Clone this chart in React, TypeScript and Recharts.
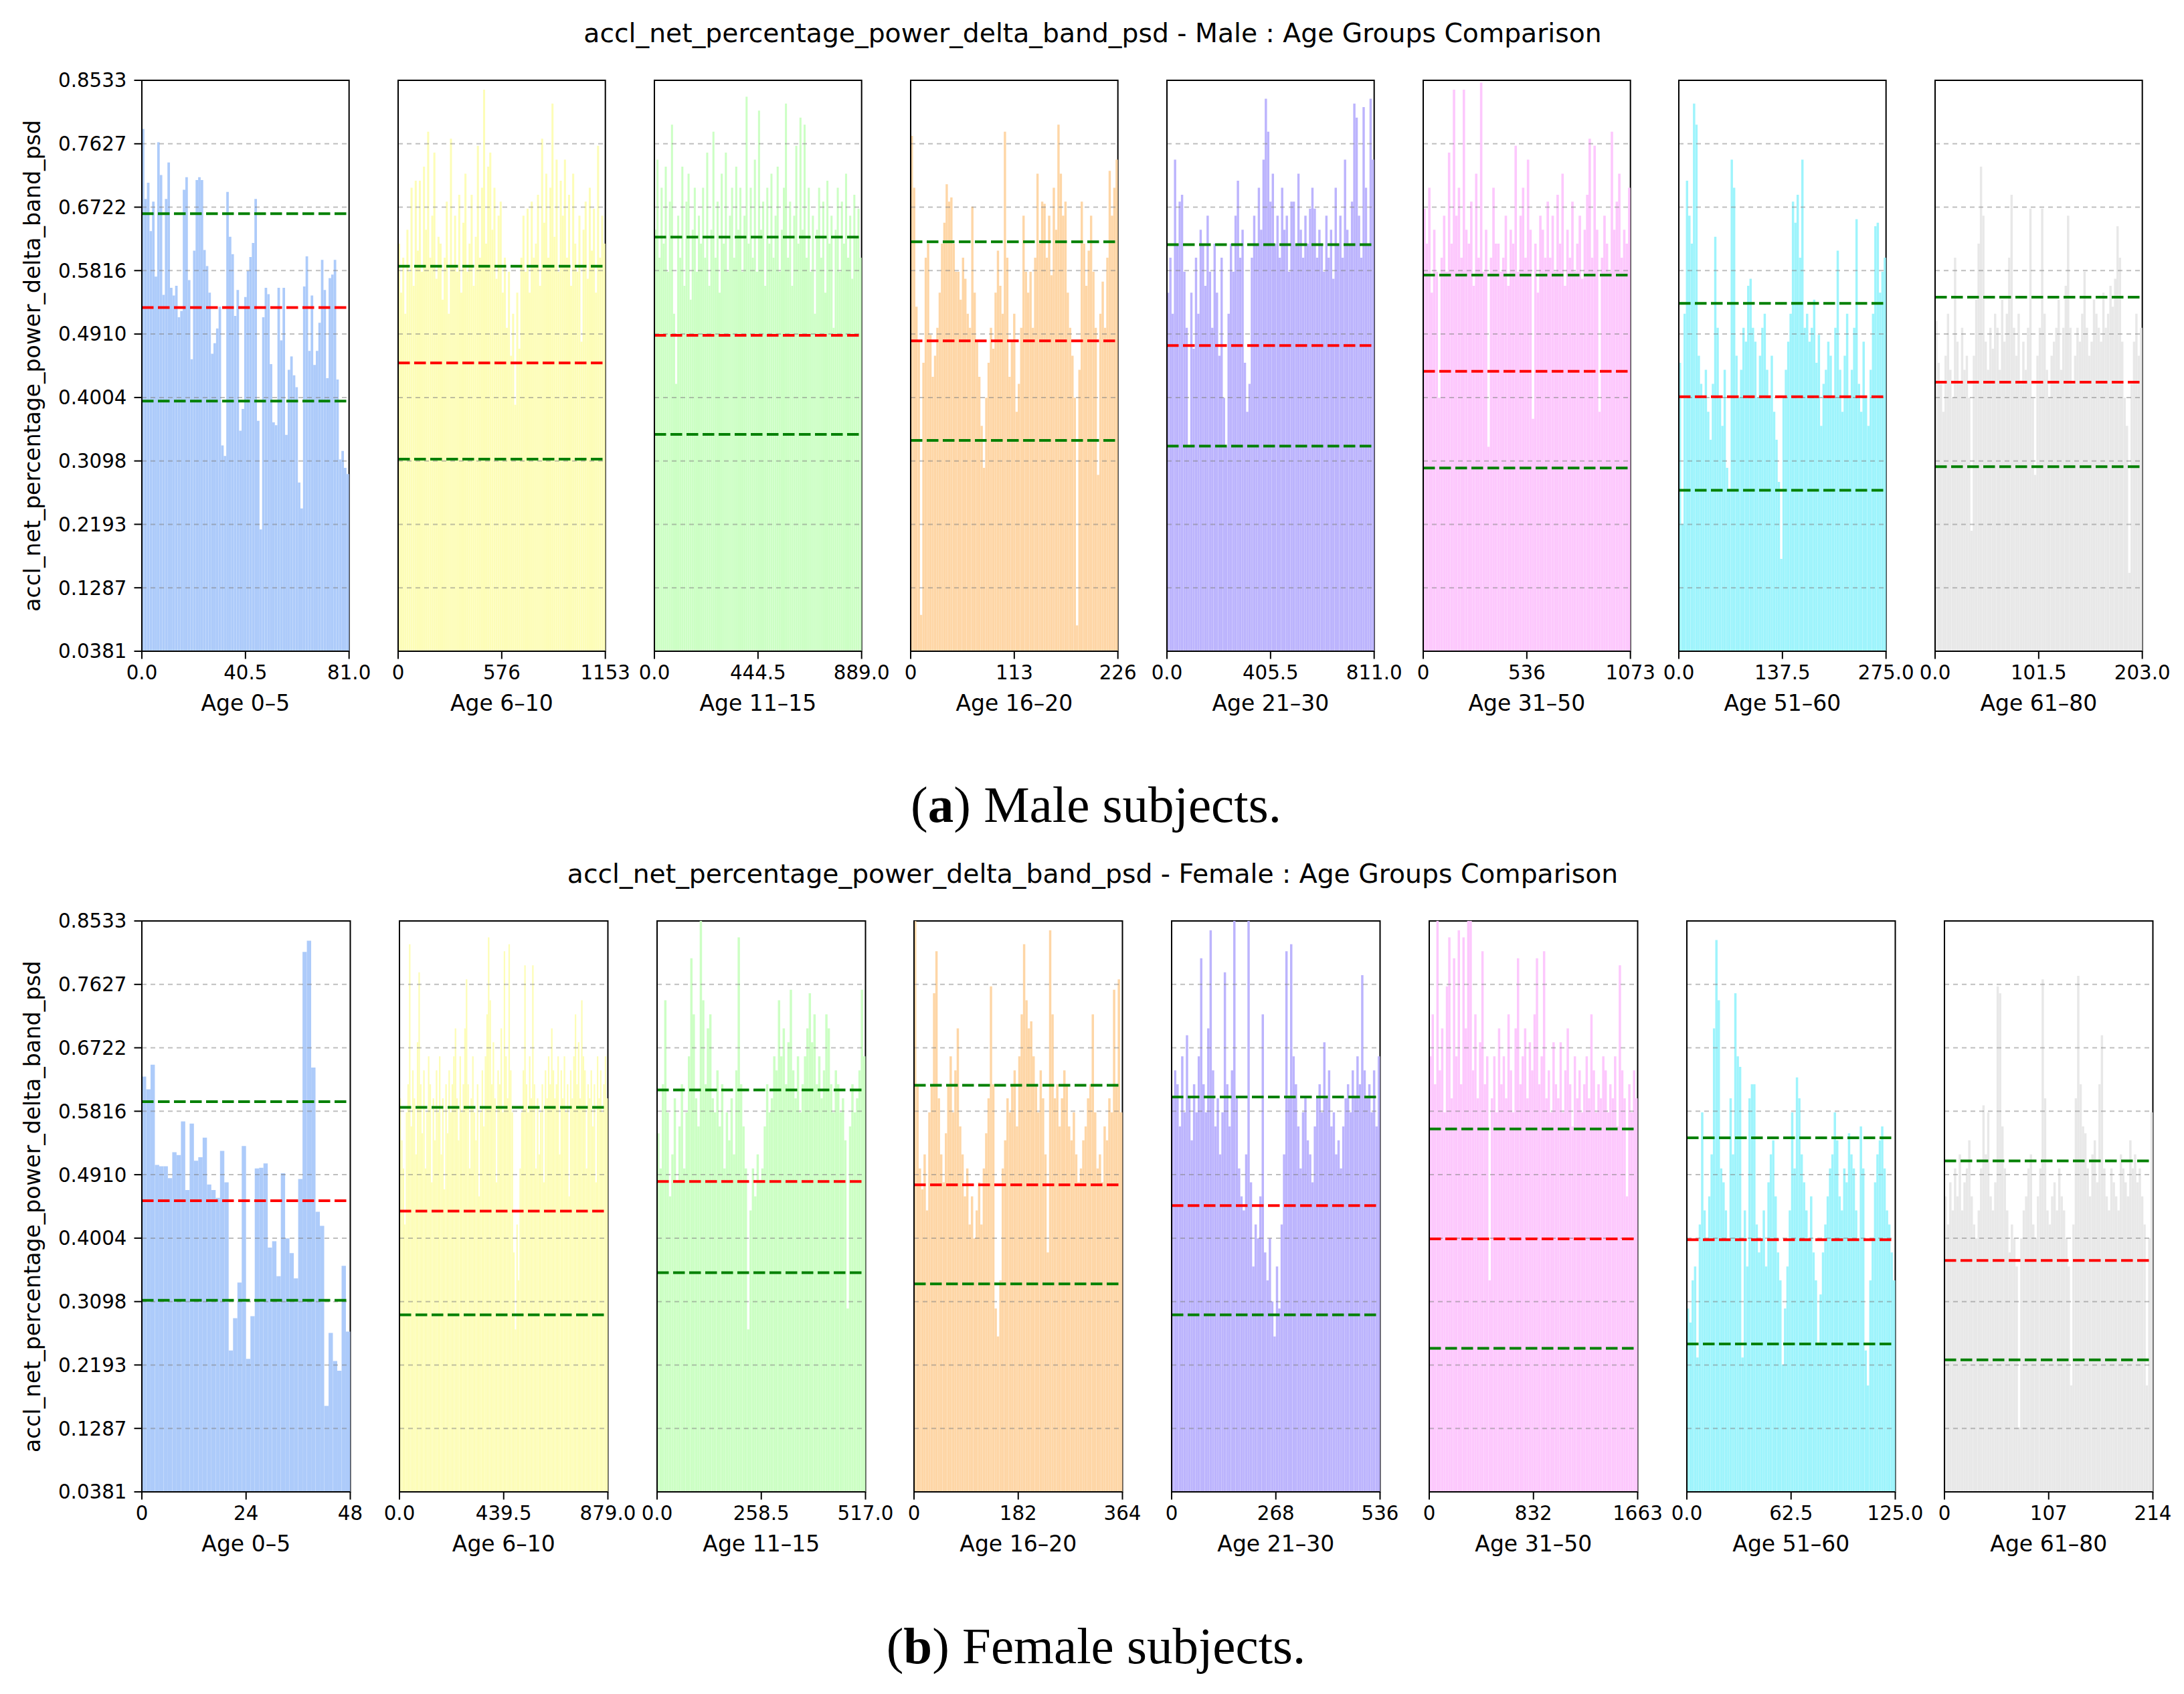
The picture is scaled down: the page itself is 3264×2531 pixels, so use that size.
import React from 'react';
import { ComposedChart, Bar, XAxis, YAxis, ReferenceLine, ReferenceArea } from 'recharts';

const FONT = "'DejaVu Sans', sans-serif";
const SERIF = "'Liberation Serif', 'DejaVu Serif', serif";

const Y_TICKS = [0.0381, 0.1287, 0.2193, 0.3098, 0.4004, 0.491, 0.5816, 0.6722, 0.7627, 0.8533];
const Y_MIN = Y_TICKS[0];
const Y_MAX = Y_TICKS[Y_TICKS.length - 1];

const AGE_GROUPS = ['Age 0–5', 'Age 6–10', 'Age 11–15', 'Age 16–20', 'Age 21–30', 'Age 31–50', 'Age 51–60', 'Age 61–80'];
const COLORS = ['#adcbfa', '#fdfdb7', '#ccffc4', '#fed6a6', '#bcb4fd', '#fdc8fd', '#9ef4fc', '#e8e8e8'];

const MALE_X_TICKS = [
  ['0.0', '40.5', '81.0'], ['0', '576', '1153'], ['0.0', '444.5', '889.0'], ['0', '113', '226'],
  ['0.0', '405.5', '811.0'], ['0', '536', '1073'], ['0.0', '137.5', '275.0'], ['0.0', '101.5', '203.0'],
];
const FEMALE_X_TICKS = [
  ['0', '24', '48'], ['0.0', '439.5', '879.0'], ['0.0', '258.5', '517.0'], ['0', '182', '364'],
  ['0', '268', '536'], ['0', '832', '1663'], ['0.0', '62.5', '125.0'], ['0', '107', '214'],
];

const MALE_UPPER = [0.6629, 0.5878, 0.6294, 0.6227, 0.6187, 0.5751, 0.5349, 0.5436];
const MALE_MEAN = [0.5288, 0.4497, 0.4893, 0.4812, 0.4745, 0.4377, 0.4015, 0.4222];
const MALE_LOWER = [0.3954, 0.3123, 0.3478, 0.3391, 0.3311, 0.2996, 0.268, 0.3016];
const FEMALE_UPPER = [0.5952, 0.5872, 0.612, 0.6187, 0.6019, 0.5563, 0.5436, 0.5107];
const FEMALE_MEAN = [0.4538, 0.439, 0.4812, 0.4765, 0.447, 0.3994, 0.3981, 0.3686];
const FEMALE_LOWER = [0.3116, 0.2908, 0.3512, 0.3351, 0.2908, 0.2432, 0.2493, 0.2265];

const male0to5 = [
  0.784, 0.684, 0.707, 0.638, 0.68, 0.573, 0.765, 0.718, 0.547, 0.684,
  0.736, 0.557, 0.546, 0.56, 0.515, 0.524, 0.697, 0.715, 0.568, 0.455,
  0.61, 0.711, 0.715, 0.711, 0.611, 0.588, 0.55, 0.463, 0.478, 0.499,
  0.53, 0.332, 0.317, 0.694, 0.63, 0.605, 0.517, 0.554, 0.353, 0.384,
  0.544, 0.581, 0.601, 0.621, 0.684, 0.367, 0.212, 0.515, 0.557, 0.548,
  0.448, 0.365, 0.361, 0.557, 0.482, 0.557, 0.347, 0.44, 0.459, 0.432,
  0.415, 0.279, 0.242, 0.559, 0.602, 0.467, 0.546, 0.447, 0.467, 0.507,
  0.597, 0.554, 0.428, 0.571, 0.576, 0.597, 0.426, 0.312, 0.324, 0.3,
  0.291,
];
const male6to10 = [
  0.62, 0.55, 0.6, 0.52, 0.64, 0.58, 0.7, 0.56, 0.71, 0.61,
  0.71, 0.58, 0.73, 0.64, 0.78, 0.6, 0.66, 0.75, 0.57, 0.63,
  0.62, 0.54, 0.6, 0.68, 0.52, 0.77, 0.59, 0.66, 0.58, 0.69,
  0.55, 0.65, 0.72, 0.58, 0.62, 0.69, 0.56, 0.63, 0.76, 0.6,
  0.7, 0.84, 0.62, 0.73, 0.75, 0.64, 0.7, 0.57, 0.66, 0.68,
  0.55, 0.6, 0.5, 0.58, 0.46, 0.52, 0.39, 0.55, 0.47, 0.6,
  0.66, 0.58, 0.67, 0.55, 0.68, 0.6, 0.62, 0.69, 0.56, 0.77,
  0.65, 0.72, 0.6, 0.7, 0.82, 0.63, 0.74, 0.58, 0.71, 0.66,
  0.74, 0.6, 0.69, 0.56, 0.72, 0.62, 0.58, 0.66, 0.48, 0.64,
  0.68, 0.57, 0.7, 0.61, 0.67, 0.55, 0.76, 0.6, 0.66, 0.62,
];
const male11to15 = [
  0.64, 0.74, 0.6, 0.7, 0.62, 0.73, 0.58, 0.68, 0.79, 0.52,
  0.42, 0.66, 0.6, 0.73, 0.56, 0.68, 0.72, 0.54, 0.64, 0.7,
  0.58, 0.66, 0.62, 0.7, 0.6, 0.75, 0.56, 0.64, 0.78, 0.6,
  0.68, 0.55, 0.72, 0.62, 0.75, 0.58, 0.66, 0.7, 0.6, 0.73,
  0.64, 0.7, 0.58, 0.66, 0.83, 0.62, 0.7, 0.6, 0.74, 0.58,
  0.81, 0.64, 0.68, 0.56, 0.7, 0.62, 0.72, 0.6, 0.66, 0.73,
  0.58, 0.64, 0.7, 0.82, 0.6, 0.68, 0.56, 0.66, 0.76, 0.62,
  0.8, 0.64, 0.79, 0.6, 0.7, 0.58, 0.66, 0.52, 0.64, 0.7,
  0.6, 0.68, 0.55, 0.71, 0.62, 0.66, 0.5, 0.64, 0.7, 0.58,
  0.68, 0.62, 0.72, 0.6, 0.66, 0.57, 0.69, 0.63, 0.67, 0.6,
];
const male16to20 = [
  0.774, 0.7, 0.53, 0.48, 0.09, 0.45, 0.6, 0.62, 0.49, 0.43,
  0.46, 0.5, 0.55, 0.62, 0.65, 0.705, 0.68, 0.686, 0.62, 0.58,
  0.58, 0.54, 0.6, 0.57, 0.52, 0.5, 0.673, 0.55, 0.48, 0.43,
  0.36, 0.3, 0.4, 0.45, 0.5, 0.47, 0.55, 0.61, 0.56, 0.52,
  0.78, 0.6, 0.43, 0.48, 0.52, 0.38, 0.42, 0.5, 0.66, 0.58,
  0.55, 0.58, 0.5, 0.6, 0.72, 0.62, 0.68, 0.677, 0.6, 0.66,
  0.575, 0.7, 0.64, 0.79, 0.72, 0.66, 0.68, 0.55, 0.5, 0.46,
  0.4, 0.075, 0.44, 0.68, 0.62, 0.56, 0.61, 0.66, 0.58, 0.5,
  0.29, 0.52, 0.566, 0.5, 0.6, 0.724, 0.66, 0.7, 0.74,
];
const male21to30 = [
  0.55, 0.6, 0.52, 0.74, 0.62, 0.68, 0.69, 0.58, 0.5, 0.33,
  0.55, 0.47, 0.6, 0.52, 0.64, 0.62, 0.56, 0.66, 0.58, 0.5,
  0.62, 0.55, 0.46, 0.6, 0.4, 0.33, 0.52, 0.62, 0.58, 0.66,
  0.71, 0.6, 0.64, 0.45, 0.38, 0.42, 0.6, 0.66, 0.62, 0.7,
  0.64, 0.74, 0.827, 0.78, 0.68, 0.72, 0.62, 0.66, 0.6, 0.7,
  0.64, 0.66, 0.58, 0.68, 0.68, 0.62, 0.72, 0.64, 0.6, 0.66,
  0.62, 0.67, 0.7, 0.67, 0.6, 0.64, 0.62, 0.58, 0.66, 0.6,
  0.64, 0.57, 0.7, 0.62, 0.66, 0.6, 0.74, 0.64, 0.62, 0.68,
  0.82, 0.8, 0.66, 0.6, 0.815, 0.7, 0.62, 0.827, 0.74,
];
const male31to50 = [
  0.67, 0.62, 0.7, 0.55, 0.64, 0.58, 0.4, 0.6, 0.66, 0.58,
  0.75, 0.62, 0.84, 0.66, 0.7, 0.6, 0.84, 0.64, 0.62, 0.68,
  0.56, 0.72, 0.6, 0.85, 0.58, 0.64, 0.33, 0.6, 0.7, 0.62,
  0.62, 0.58, 0.6, 0.66, 0.56, 0.64, 0.62, 0.76, 0.58, 0.66,
  0.7, 0.6, 0.74, 0.64, 0.37, 0.62, 0.55, 0.66, 0.64, 0.6,
  0.68, 0.6, 0.66, 0.58, 0.69, 0.62, 0.72, 0.56, 0.64, 0.6,
  0.68, 0.58, 0.62, 0.66, 0.57, 0.64, 0.69, 0.77, 0.6, 0.76,
  0.64, 0.38, 0.6, 0.66, 0.62, 0.58, 0.78, 0.64, 0.68, 0.72,
  0.6, 0.64, 0.62, 0.7,
];
const male51to60 = [
  0.45, 0.22, 0.52, 0.71, 0.66, 0.62, 0.82, 0.79, 0.46, 0.42,
  0.4, 0.44, 0.38, 0.34, 0.42, 0.63, 0.5, 0.4, 0.36, 0.44,
  0.3, 0.27, 0.74, 0.7, 0.46, 0.4, 0.44, 0.5, 0.48, 0.56,
  0.57, 0.5, 0.48, 0.4, 0.46, 0.5, 0.52, 0.44, 0.4, 0.46,
  0.38, 0.34, 0.28, 0.17, 0.4, 0.44, 0.48, 0.52, 0.68, 0.65,
  0.69, 0.6, 0.74, 0.5, 0.52, 0.48, 0.5, 0.54, 0.45, 0.49,
  0.36, 0.42, 0.44, 0.48, 0.46, 0.4, 0.5, 0.61, 0.44, 0.38,
  0.46, 0.52, 0.4, 0.44, 0.5, 0.655, 0.42, 0.38, 0.48, 0.4,
  0.36, 0.44, 0.52, 0.645, 0.65, 0.55, 0.58, 0.6,
];
const male61to80 = [
  0.51, 0.45, 0.42, 0.38, 0.46, 0.52, 0.44, 0.4, 0.6, 0.48,
  0.42, 0.5, 0.44, 0.46, 0.4, 0.21, 0.46, 0.54, 0.62, 0.73,
  0.66, 0.48, 0.44, 0.5, 0.47, 0.52, 0.5, 0.44, 0.54, 0.48,
  0.52, 0.6, 0.69, 0.5, 0.46, 0.52, 0.42, 0.48, 0.44, 0.5,
  0.67, 0.4, 0.29, 0.46, 0.5, 0.67, 0.52, 0.44, 0.4, 0.46,
  0.48, 0.5, 0.54, 0.44, 0.5, 0.56, 0.66, 0.5, 0.42, 0.46,
  0.5, 0.48, 0.52, 0.58, 0.5, 0.46, 0.48, 0.54, 0.52, 0.5,
  0.48, 0.55, 0.5, 0.52, 0.56, 0.53, 0.57, 0.645, 0.6, 0.48,
  0.4, 0.36, 0.15, 0.42, 0.48, 0.52, 0.46, 0.5,
];

const female0to5 = [
  0.631, 0.613, 0.648, 0.505, 0.503, 0.503, 0.486, 0.523, 0.519, 0.567,
  0.469, 0.564, 0.511, 0.516, 0.544, 0.477, 0.469, 0.458, 0.525, 0.48,
  0.24, 0.286, 0.337, 0.532, 0.228, 0.289, 0.5, 0.501, 0.507, 0.387,
  0.396, 0.346, 0.493, 0.4, 0.379, 0.343, 0.485, 0.809, 0.825, 0.644,
  0.438, 0.418, 0.161, 0.265, 0.225, 0.211, 0.361, 0.267,
];
const female6to10 = [
  0.6, 0.54, 0.5, 0.42, 0.58, 0.62, 0.82, 0.56, 0.64, 0.6, 0.52, 0.68,
  0.78, 0.62, 0.55, 0.64, 0.5, 0.58, 0.66, 0.62, 0.48, 0.6, 0.54, 0.64,
  0.58, 0.66, 0.52, 0.6, 0.47, 0.62, 0.55, 0.64, 0.58, 0.62, 0.66, 0.7,
  0.6, 0.54, 0.66, 0.58, 0.62, 0.7, 0.77, 0.62, 0.5, 0.6, 0.66, 0.58,
  0.54, 0.62, 0.46, 0.58, 0.64, 0.56, 0.66, 0.72, 0.83, 0.74, 0.62, 0.68,
  0.6, 0.48, 0.64, 0.62, 0.7, 0.58, 0.81, 0.66, 0.6, 0.82, 0.64, 0.58,
  0.38, 0.27, 0.42, 0.34, 0.5, 0.58, 0.64, 0.79, 0.62, 0.58, 0.66, 0.6,
  0.79, 0.62, 0.5, 0.6, 0.52, 0.58, 0.62, 0.48, 0.64, 0.6, 0.66, 0.62,
  0.7, 0.64, 0.6, 0.62, 0.66, 0.52, 0.64, 0.6, 0.66, 0.58, 0.62, 0.46,
  0.64, 0.6, 0.66, 0.72, 0.62, 0.68, 0.6, 0.74, 0.66, 0.64, 0.5, 0.62,
  0.6, 0.64, 0.56, 0.62, 0.48, 0.66, 0.6, 0.64, 0.58, 0.62, 0.66, 0.6,
];
const female11to15 = [
  0.55, 0.5, 0.62, 0.74, 0.58, 0.46, 0.52, 0.6, 0.48, 0.56,
  0.62, 0.5, 0.58, 0.66, 0.8, 0.72, 0.6, 0.56, 0.87, 0.74,
  0.62, 0.7, 0.72, 0.6, 0.58, 0.64, 0.56, 0.62, 0.5, 0.58,
  0.54, 0.6, 0.52, 0.64,
  0.83, 0.62, 0.56, 0.5, 0.27, 0.44, 0.5, 0.46, 0.52, 0.48,
  0.5, 0.56, 0.62, 0.58, 0.6, 0.66, 0.64, 0.74, 0.66, 0.7,
  0.62, 0.68, 0.755, 0.64, 0.6, 0.66, 0.58, 0.62, 0.66, 0.7,
  0.75, 0.68, 0.72, 0.62, 0.66, 0.6, 0.64, 0.72, 0.7, 0.62,
  0.58, 0.64, 0.62, 0.58, 0.6, 0.54, 0.3, 0.56, 0.62, 0.58,
  0.6, 0.64, 0.755, 0.66,
];
const female16to20 = [
  0.853, 0.62, 0.5, 0.47, 0.52, 0.44, 0.58, 0.62, 0.75, 0.81,
  0.6, 0.52, 0.48, 0.55, 0.62, 0.66, 0.58, 0.64, 0.7, 0.56,
  0.52, 0.46, 0.5, 0.42, 0.46, 0.4, 0.44, 0.48, 0.42, 0.5,
  0.55, 0.6, 0.76, 0.62, 0.3, 0.26, 0.34, 0.5, 0.54, 0.6,
  0.58, 0.62, 0.64, 0.56, 0.66, 0.72, 0.82, 0.74, 0.7, 0.71,
  0.66, 0.62, 0.58, 0.64, 0.6, 0.52, 0.38, 0.84, 0.72, 0.6,
  0.62, 0.56, 0.6, 0.64, 0.62, 0.56, 0.54, 0.58, 0.52, 0.48,
  0.5, 0.54, 0.56, 0.6, 0.62, 0.72, 0.58, 0.5, 0.52, 0.48,
  0.56, 0.54, 0.6, 0.58, 0.755, 0.62, 0.77, 0.58,
];
const female21to30 = [
  0.6, 0.64, 0.62, 0.56, 0.66, 0.58, 0.69, 0.6, 0.54, 0.62,
  0.58, 0.66, 0.8, 0.62, 0.58, 0.7, 0.84, 0.64, 0.56, 0.6,
  0.52, 0.58, 0.78, 0.62, 0.56, 0.64, 0.86, 0.6, 0.5, 0.46,
  0.44, 0.52, 0.86, 0.48, 0.36, 0.42, 0.4, 0.46, 0.72, 0.38,
  0.34, 0.4, 0.31, 0.26, 0.36, 0.3, 0.42, 0.52, 0.81, 0.6,
  0.82, 0.66, 0.62, 0.56, 0.5, 0.58, 0.6, 0.54, 0.52, 0.48,
  0.56, 0.6, 0.62, 0.58, 0.68, 0.6, 0.64, 0.56, 0.58, 0.52,
  0.54, 0.5, 0.56, 0.6, 0.62, 0.58, 0.64, 0.6, 0.66, 0.62,
  0.776, 0.64, 0.6, 0.62, 0.58, 0.64, 0.56, 0.66,
];
const female31to50 = [
  0.66, 0.72, 0.62, 0.9, 0.64, 0.7, 0.58, 0.76, 0.83, 0.6,
  0.8, 0.66, 0.84, 0.62, 0.83, 0.7, 0.9, 0.88, 0.64, 0.72,
  0.6, 0.68, 0.81, 0.62, 0.66, 0.34, 0.6, 0.66, 0.58, 0.7,
  0.62, 0.66, 0.6, 0.72, 0.64, 0.58, 0.7, 0.8, 0.62, 0.66,
  0.7, 0.6, 0.68, 0.64, 0.72, 0.8, 0.62, 0.66, 0.81, 0.6,
  0.64, 0.58, 0.68, 0.62, 0.6, 0.68, 0.58, 0.64, 0.7, 0.62,
  0.56, 0.66, 0.6, 0.64, 0.58, 0.62, 0.66, 0.6, 0.72, 0.64,
  0.58, 0.62, 0.6, 0.66, 0.64, 0.58, 0.62, 0.6, 0.66, 0.56,
  0.79, 0.64, 0.6, 0.46, 0.62, 0.58, 0.64, 0.6,
];
const female51to60 = [
  0.3, 0.28, 0.34, 0.36, 0.23, 0.42, 0.58, 0.44, 0.4, 0.46,
  0.52, 0.7, 0.826, 0.74, 0.5, 0.48, 0.44, 0.4, 0.6, 0.52,
  0.75, 0.66, 0.645, 0.23, 0.44, 0.36, 0.6, 0.62, 0.62, 0.42,
  0.38, 0.4, 0.44, 0.36, 0.48, 0.52, 0.54, 0.46, 0.38, 0.34,
  0.22, 0.3, 0.36, 0.44, 0.58, 0.5, 0.63, 0.6, 0.52, 0.48,
  0.44, 0.4, 0.46, 0.38, 0.34, 0.25, 0.32, 0.38, 0.42, 0.46,
  0.5, 0.52, 0.58, 0.54, 0.46, 0.44, 0.5, 0.48, 0.55, 0.52,
  0.5, 0.44, 0.4, 0.56, 0.5, 0.24, 0.19, 0.34, 0.4, 0.48,
  0.52, 0.54, 0.56, 0.5, 0.44, 0.42, 0.38, 0.34,
];
const female61to80 = [
  0.46, 0.42, 0.48, 0.44, 0.5, 0.46, 0.52, 0.44, 0.48, 0.5,
  0.54, 0.46, 0.42, 0.4, 0.44, 0.5, 0.59, 0.52, 0.58, 0.46,
  0.44, 0.48, 0.76, 0.75, 0.56, 0.5, 0.44, 0.38, 0.42, 0.4,
  0.36, 0.13, 0.4, 0.44, 0.46, 0.5, 0.52, 0.42, 0.4, 0.46,
  0.5, 0.77, 0.6, 0.44, 0.42, 0.46, 0.48, 0.44, 0.5, 0.46,
  0.44, 0.4, 0.36, 0.19, 0.42, 0.6, 0.775, 0.62, 0.56, 0.55,
  0.5, 0.46, 0.52, 0.54, 0.48, 0.62, 0.69, 0.5, 0.46, 0.44,
  0.5, 0.48, 0.46, 0.44, 0.52, 0.5, 0.48, 0.46, 0.54, 0.5,
  0.52, 0.48, 0.5, 0.46, 0.42, 0.19, 0.4, 0.58,
];

const MALE_SERIES = [male0to5, male6to10, male11to15, male16to20, male21to30, male31to50, male51to60, male61to80];
const FEMALE_SERIES = [female0to5, female6to10, female11to15, female16to20, female21to30, female31to50, female51to60, female61to80];

type PanelProps = {
  values: number[];
  color: string;
  tickLabels: string[];
  label: string;
  mean: number;
  upper: number;
  lower: number;
  showY: boolean;
  left: number;
  top: number;
  plotW: number;
  plotH: number;
};

function Panel(p: PanelProps) {
  const n = p.values.length;
  const data = p.values.map((v, i) => ({ i, v }));
  const YW = p.showY ? 212 : 30;
  const MT = 20;
  const MR = 70;
  const XH = 110;
  const bw = p.plotW / n;
  const mid = n % 2 === 1 ? (n - 1) / 2 : n / 2;
  const axisY = MT + p.plotH;

  const renderTick = (props: any) => {
    const v = props.payload.value;
    let lx = props.x;
    let label = p.tickLabels[1];
    if (v === 0) {
      lx = props.x - bw / 2;
      label = p.tickLabels[0];
    } else if (v === n - 1) {
      lx = props.x + bw / 2;
      label = p.tickLabels[2];
    } else if (n % 2 === 0) {
      lx = props.x - bw / 2;
    }
    return (
      <g>
        <line x1={lx} x2={lx} y1={axisY} y2={axisY + 11.5} stroke="#000" strokeWidth={2} />
        <text x={lx} y={axisY + 42} textAnchor="middle" fontSize={29.3} fontFamily={FONT} fill="#000">
          {label}
        </text>
      </g>
    );
  };

  const dash = '17.5 6.5';
  return (
    <div style={{ position: 'absolute', left: p.left - YW, top: p.top - MT }}>
      <ComposedChart
        width={YW + p.plotW + MR}
        height={MT + p.plotH + XH}
        data={data}
        margin={{ top: MT, right: MR, bottom: 0, left: 0 }}
        barCategoryGap={0}
        barGap={0}
        style={{ fontFamily: FONT }}
      >
        <XAxis
          dataKey="i"
          type="category"
          ticks={[0, mid, n - 1]}
          interval={0}
          tick={renderTick}
          tickLine={false}
          axisLine={{ stroke: '#000', strokeWidth: 2 }}
          height={XH}
          label={{ value: p.label, position: 'insideBottom', offset: 21, fontSize: 33, fill: '#000', fontFamily: FONT }}
        />
        <YAxis
          type="number"
          domain={[Y_MIN, Y_MAX]}
          ticks={Y_TICKS}
          interval={0}
          allowDataOverflow
          width={YW}
          tickSize={11.5}
          tickMargin={11}
          tickLine={{ stroke: '#000', strokeWidth: 2 }}
          axisLine={{ stroke: '#000', strokeWidth: 2 }}
          tick={p.showY ? { fontSize: 29.3, fill: '#000', fontFamily: FONT } : false}
          tickFormatter={(v: number) => v.toFixed(4)}
        />
        <Bar dataKey="v" fill={p.color} isAnimationActive={false} barSize={bw - 0.05} />
        {Y_TICKS.slice(1, -1).map((t) => (
          <ReferenceLine key={t} y={t} stroke="#808080" strokeOpacity={0.5} strokeWidth={2} strokeDasharray="7 6" />
        ))}
        <ReferenceLine y={p.upper} stroke="#008000" strokeWidth={4} strokeDasharray={dash} />
        <ReferenceLine y={p.mean} stroke="#ff0000" strokeWidth={4} strokeDasharray={dash} />
        <ReferenceLine y={p.lower} stroke="#008000" strokeWidth={4} strokeDasharray={dash} />
        <ReferenceArea y1={Y_MIN} y2={Y_MAX} fill="none" fillOpacity={0} stroke="#000" strokeWidth={2} />
      </ComposedChart>
    </div>
  );
}

const TOP_ROW = { top: 120, plotH: 853, left0: 212, step: 382.9, plotW: 309.7 };
const BOTTOM_ROW = { top: 1376.3, plotH: 853, left0: 212, step: 384.8, plotW: 311.5 };

export default function App() {
  const yLabel = 'accl_net_percentage_power_delta_band_psd';
  return (
    <div style={{ position: 'absolute', left: 0, top: 0, width: 3264, height: 2531, background: '#fff', overflow: 'hidden' }}>
      {MALE_SERIES.map((vals, k) => (
        <Panel
          key={'m' + k}
          values={vals}
          color={COLORS[k]}
          tickLabels={MALE_X_TICKS[k]}
          label={AGE_GROUPS[k]}
          mean={MALE_MEAN[k]}
          upper={MALE_UPPER[k]}
          lower={MALE_LOWER[k]}
          showY={k === 0}
          left={TOP_ROW.left0 + TOP_ROW.step * k}
          top={TOP_ROW.top}
          plotW={TOP_ROW.plotW}
          plotH={TOP_ROW.plotH}
        />
      ))}
      {FEMALE_SERIES.map((vals, k) => (
        <Panel
          key={'f' + k}
          values={vals}
          color={COLORS[k]}
          tickLabels={FEMALE_X_TICKS[k]}
          label={AGE_GROUPS[k]}
          mean={FEMALE_MEAN[k]}
          upper={FEMALE_UPPER[k]}
          lower={FEMALE_LOWER[k]}
          showY={k === 0}
          left={BOTTOM_ROW.left0 + BOTTOM_ROW.step * k}
          top={BOTTOM_ROW.top}
          plotW={BOTTOM_ROW.plotW}
          plotH={BOTTOM_ROW.plotH}
        />
      ))}
      <svg width={3264} height={2531} style={{ position: 'absolute', left: 0, top: 0, pointerEvents: 'none' }}>
        <text x={1633} y={63} textAnchor="middle" fontSize={39.3} fontFamily={FONT} fill="#000">
          accl_net_percentage_power_delta_band_psd - Male : Age Groups Comparison
        </text>
        <text x={1633} y={1318.7} textAnchor="middle" fontSize={39.3} fontFamily={FONT} fill="#000">
          accl_net_percentage_power_delta_band_psd - Female : Age Groups Comparison
        </text>
        <text transform="translate(60, 546.5) rotate(-90)" textAnchor="middle" fontSize={33} fontFamily={FONT} fill="#000">
          {yLabel}
        </text>
        <text transform="translate(60, 1802.8) rotate(-90)" textAnchor="middle" fontSize={33} fontFamily={FONT} fill="#000">
          {yLabel}
        </text>
        <text x={1638} y={1228} textAnchor="middle" fontSize={77} fontFamily={SERIF} fill="#000">
          <tspan>(</tspan>
          <tspan fontWeight="bold">a</tspan>
          <tspan>) Male subjects.</tspan>
        </text>
        <text x={1638} y={2485} textAnchor="middle" fontSize={77} fontFamily={SERIF} fill="#000">
          <tspan>(</tspan>
          <tspan fontWeight="bold">b</tspan>
          <tspan>) Female subjects.</tspan>
        </text>
      </svg>
    </div>
  );
}
